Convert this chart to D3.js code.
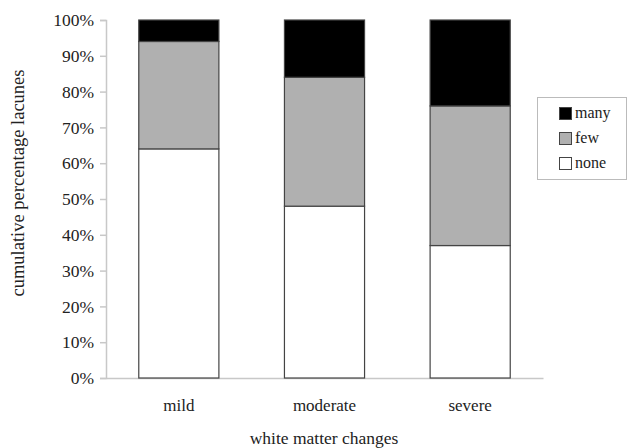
<!DOCTYPE html>
<html><head><meta charset="utf-8">
<script src="https://cdn.jsdelivr.net/npm/d3@7"></script>
<style>body{margin:0;background:#fff} svg text{font-family:"Liberation Serif","Times New Roman",Times,serif !important;}</style>
</head><body>
<svg id="c" width="627" height="448"></svg>
<script>
const categories = ["mild", "moderate", "severe"];
const seriesNames = ["none", "few", "many"];
const none = [64, 48, 37];
const few = [30, 36, 39];
const many = [6, 16, 24];
const yTicks = [0,10,20,30,40,50,60,70,80,90,100];
const colors = {none:"#ffffff", few:"#b0b0b0", many:"#000000"};

const svg = d3.select("#c");
const m = {l:106, r:84, t:20, b:70};
const x = d3.scaleBand().domain(categories).range([m.l, 543]).paddingInner(0.45).paddingOuter(0.225);
const y = d3.scaleLinear().domain([0,100]).range([378, 20]);

const rows = categories.map((c,i)=>({cat:c, none:none[i], few:few[i], many:many[i]}));
const stack = d3.stack().keys(seriesNames)(rows);

const ya = svg.append("g").attr("transform",`translate(${m.l},0)`)
  .call(d3.axisLeft(y).tickValues(yTicks).tickSize(6).tickPadding(6).tickFormat(d=>d+"%"));
ya.select(".domain").attr("stroke","#c8c8c8").attr("stroke-width",1.5);
ya.selectAll(".tick line").attr("stroke","#c8c8c8").attr("stroke-width",1.5);
ya.selectAll("text").attr("font-size",17.5).attr("fill","#222");

const xa = svg.append("g").attr("transform",`translate(0,378)`)
  .call(d3.axisBottom(x).tickSize(0).tickPadding(21));
xa.select(".domain").attr("stroke","#c8c8c8").attr("stroke-width",1.5);
xa.selectAll("text").attr("font-size",17).attr("fill","#222");

svg.append("g").selectAll("g").data(stack).join("g")
  .attr("fill",d=>colors[d.key])
  .selectAll("rect").data(d=>d).join("rect")
  .attr("x",d=>x(d.data.cat)).attr("width",x.bandwidth())
  .attr("y",d=>y(d[1])).attr("height",d=>y(d[0])-y(d[1]))
  .attr("stroke","#444").attr("stroke-width",1.2);

svg.append("text").attr("x",324).attr("y",444).attr("text-anchor","middle")
  .attr("font-size",17.5).attr("fill","#222").text("white matter changes");
svg.append("text").attr("transform","translate(24,183) rotate(-90)").attr("text-anchor","middle")
  .attr("font-size",18.5).attr("fill","#222").text("cumulative percentage lacunes");

const lg = svg.append("g");
lg.append("rect").attr("x",537.5).attr("y",97.5).attr("width",89).attr("height",82)
  .attr("fill","#fff").attr("stroke","#bbb");
["many","few","none"].forEach((k,i)=>{
  const yy = 107 + i*25;
  lg.append("rect").attr("x",559.5).attr("y",yy+0.5).attr("width",12).attr("height",12)
    .attr("fill",colors[k]).attr("stroke","#444");
  lg.append("text").attr("x",575).attr("y",yy+11).attr("font-size",16)
    .attr("fill","#222").text(k);
});
</script>
</body></html>
